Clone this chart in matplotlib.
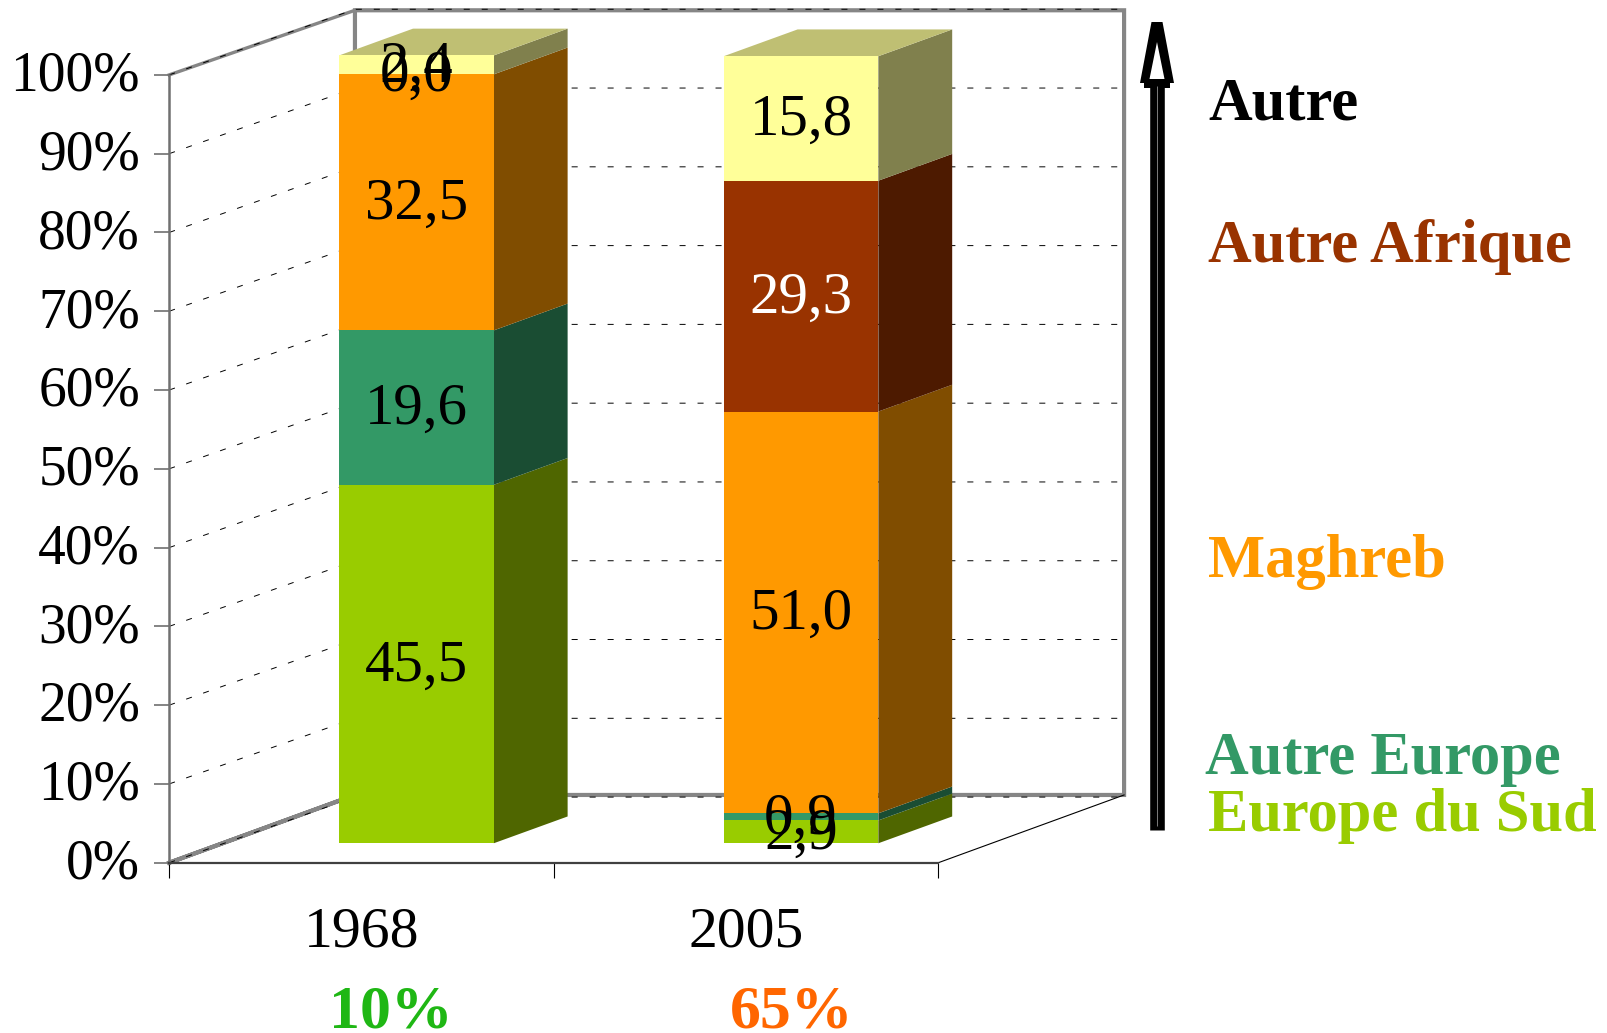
import numpy as np
import matplotlib
matplotlib.use('Agg')
import matplotlib.pyplot as plt
from matplotlib.transforms import ScaledTranslation

plt.rcParams['font.family'] = ['Liberation Serif', 'DejaVu Serif']

years = ['1968', '2005']
shares = ['10%', '65%']
series_names = ['Europe du Sud', 'Autre Europe', 'Maghreb', 'Autre Afrique', 'Autre']
europe_sud = [45.5, 2.9]
autre_europe = [19.6, 0.9]
maghreb = [32.5, 51.0]
autre_afrique = [0.0, 29.3]
autre = [2.4, 15.8]
percent_ticks = [0, 10, 20, 30, 40, 50, 60, 70, 80, 90, 100]

front = ['#99CC00', '#339966', '#FF9900', '#993300', '#FFFF99']
side = ['#4F6600', '#1A4D33', '#804D00', '#4D1A00', '#80804D']
top_color = '#BFBF73'
legend_colors = ['#99CC00', '#339966', '#FF9900', '#993300', 'black']
share_colors = ['#1FB714', '#FF6600']
wall = '#868686'

W, H = 1608, 1033
S = W / 1568  # picture coordinates were read on the 1568 wide view

fig = plt.figure(figsize=(W / 100, H / 100), dpi=100)
ax = fig.add_axes([165 / 1568, 1 - 841 / 1007, 750 / 1568, 768 / 1007])
ax.set_xlim(0, 2)
ax.set_ylim(0, 100)
ax.patch.set_alpha(0)

# 3d offsets, in data units
wall_dx = 0.483
wall_low, wall_high = 8.6, 108.2
grid_dy = 8.33
bar_dx, bar_dy = 0.143, 2.47
depth_x, depth_y = 0.192, 3.4
bar_w = 0.402

# back walls
ax.plot([0, wall_dx, wall_dx, 2 + wall_dx, 2 + wall_dx, wall_dx, wall_dx, 0],
        [0, wall_low, wall_high, wall_high, wall_low, wall_low, wall_low, 0],
        color=wall, lw=3, clip_on=False, zorder=1, solid_joinstyle='miter')
ax.plot([wall_dx, 0], [wall_high, 100], color=wall, lw=2.4, clip_on=False, zorder=1)
ax.plot([2, 2 + wall_dx], [0, wall_low], color='black', lw=0.8, clip_on=False, zorder=1)

# grid
for v in percent_ticks:
    ax.plot([0, wall_dx, 2 + wall_dx], [v, v + grid_dy, v + grid_dy], color='black', lw=0.7,
            linestyle=(0, (6.2, 12.3)), clip_on=False, zorder=2)

# bars
data = [europe_sud, autre_europe, maghreb, autre_afrique, autre]
for i in range(2):
    xc = i + 0.5 + bar_dx
    x1 = xc + bar_w / 2
    bottom = bar_dy
    for j in range(5):
        val = data[j][i]
        ax.bar(xc, val, bar_w, bottom=bottom, color=front[j], clip_on=False, zorder=4)
        ax.fill([x1, x1 + depth_x, x1 + depth_x, x1],
                [bottom, bottom + depth_y, bottom + val + depth_y, bottom + val],
                color=side[j], lw=0, clip_on=False, zorder=3)
        bottom += val
    ax.fill([x1 - bar_w, x1, x1 + depth_x, x1 - bar_w + depth_x],
            [bottom, bottom, bottom + depth_y, bottom + depth_y],
            color=top_color, lw=0, clip_on=False, zorder=3)
    bottom = bar_dy
    for j in range(5):
        val = data[j][i]
        col = 'white' if years[i] == '2005' and series_names[j] == 'Autre Afrique' else 'black'
        ax.text(xc, bottom + val / 2 + 0.5, f'{val:.1f}'.replace('.', ','), color=col,
                fontsize=42.5, ha='center', va='center_baseline', zorder=6, clip_on=False)
        bottom += val

# axes
for name in ['top', 'right']:
    ax.spines[name].set_visible(False)
ax.spines['left'].set_color('#707070')
ax.spines['left'].set_linewidth(1.8)
ax.spines['bottom'].set_color('#404040')
ax.spines['bottom'].set_linewidth(1.6)
ax.set_yticks(percent_ticks)
ax.set_yticklabels([f'{v}%' for v in percent_ticks], fontsize=40)
ax.tick_params(axis='y', length=11, width=1.2, color='#707070', pad=10)
lift = ScaledTranslation(0, 3 / 72, fig.dpi_scale_trans)
for lab in ax.get_yticklabels():
    lab.set_transform(lab.get_transform() + lift)
ax.set_xticks([0.5, 1.5])
ax.set_xticklabels(years, fontsize=41.5)
ax.set_xticks([0, 1, 2], minor=True)
ax.tick_params(axis='x', which='major', length=0, pad=31.5)
ax.tick_params(axis='x', which='minor', length=11, width=0.8, color='black')

# overlay in picture coordinates for the legend and the arrow
over = fig.add_axes([0, 0, 1, 1])
over.set_xlim(0, W)
over.set_ylim(H, 0)
over.axis('off')
over.patch.set_alpha(0)

legend_y = [810, 755, 563, 255, 117]
legend_x = [1178, 1175, 1178, 1178, 1178]
for name, col, x, y in zip(series_names, legend_colors, legend_x, legend_y):
    over.text(x * S, y * S, name, color=col, fontsize=43.6, fontweight='bold', va='baseline')

share_x = [381, 772]
for t, col, x in zip(shares, share_colors, share_x):
    over.text(x * S, 1002 * S, t, color=col, fontsize=44.5, fontweight='bold', ha='center', va='baseline')

# arrow
ax_x = 1157
over.plot([ax_x, ax_x], [86, 830], color='black', lw=10.5, solid_capstyle='butt')
over.plot([ax_x, ax_x], [86, 826], color='#909090', lw=0.6, solid_capstyle='butt')
over.fill([ax_x - 13, ax_x + 13, ax_x + 13, ax_x - 13], [81, 81, 88, 88], color='black', lw=0)
over.fill([ax_x - 5.5, ax_x + 5.5, ax_x + 17, ax_x - 17], [22, 22, 83, 83], color='black', lw=0)
over.fill([ax_x, ax_x + 7.5, ax_x - 7.5], [42, 79, 79], color='white', lw=0)

fig.savefig('out.png', dpi=100)
